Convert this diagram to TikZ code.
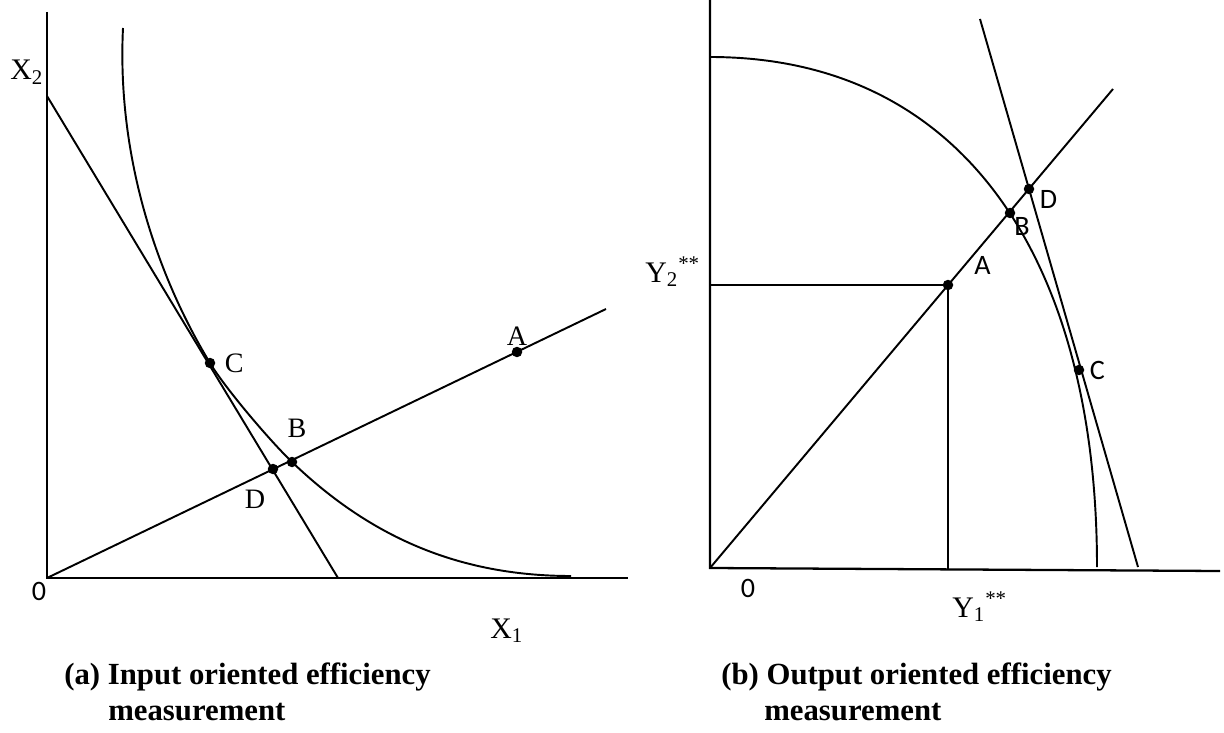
\documentclass[tikz,border=0pt]{standalone}
\usepackage{fontspec}
\setmainfont{Liberation Serif}
\newfontfamily\calibrifont{Carlito}
\usetikzlibrary{positioning}
\tikzset{
  % axes and curves
  axisline/.style={line width=1.3pt},
  curveline/.style={line width=1.1pt},
  % points on the curves
  ptdot/.style={circle, fill=black, inner sep=0pt, minimum size=0.21cm},
  ptlabel/.style={inner sep=0pt, font=\fontsize{16}{18}\selectfont},
  sanslabel/.style={inner sep=0pt, font=\fontsize{16}{18}\selectfont\calibrifont},
  axislabel/.style={inner sep=0pt, font=\fontsize{17}{20}\selectfont},
  captext/.style={inner sep=0pt, anchor=base west, font=\fontsize{17.5}{21}\selectfont\bfseries}
}

\begin{document}
\begin{tikzpicture}[x=0.02cm, y=-0.02cm]
  \useasboundingbox (0,0) rectangle (1224,733);

  % Panel (a): input oriented
  \coordinate (oL) at (47,578);
  \coordinate (yTopL) at (47,12);
  \coordinate (xEndL) at (628,578);
  \coordinate (budTop) at (47,96);
  \coordinate (budEnd) at (338,578);
  \coordinate (rayEndL) at (606,309);
  \coordinate (isoTop) at (123,28);
  \coordinate (isoEnd) at (571,576);

  \node[ptdot] (ptA) at (517,352) {};
  \node[ptdot] (ptB) at (292,462) {};
  \node[ptdot] (ptC) at (210,363) {};
  \node[ptdot] (ptD) at (273,469) {};

  \draw[axisline] (yTopL) -- (oL) -- (xEndL);
  \draw[curveline] (budTop) -- (budEnd);
  \draw[curveline] (oL) -- (rayEndL);
  \draw[curveline] (isoTop) .. controls (117,150) and (153,269) .. (ptC.center)
    .. controls (225.5,388.7) and (270.4,441.3) .. (ptB.center)
    .. controls (364,531) and (451,576) .. (isoEnd);

  \node[ptlabel, above=0.02cm of ptA] (lblA) {A};
  \node[ptlabel, above=0.36cm of ptB, xshift=0.1cm] (lblB) {B};
  \node[ptlabel, right=0.18cm of ptC] (lblC) {C};
  \node[ptlabel, below=0.3cm of ptD, xshift=-0.36cm] (lblD) {D};

  \node[axislabel, anchor=base west] (lblX2) at (10,80) {X\textsubscript{2}};
  \node[axislabel, anchor=base west] (lblX1) at (490,638) {X\textsubscript{1}};
  \node[sanslabel] (lblOL) at (39,591) {0};

  \node[captext] (capA) at (64,684) {(a) Input oriented efficiency};
  \node[captext] (capA2) at (108,720) {measurement};

  % Panel (b): output oriented
  \coordinate (oR) at (710,568);
  \coordinate (yTopR) at (710,0);
  \coordinate (xEndR) at (1220,571);
  \coordinate (rayEndR) at (1113,89);
  \coordinate (frontTop) at (710,57);
  \coordinate (frontEnd) at (1097,567);
  \coordinate (tanTop) at (980,19);
  \coordinate (tanEnd) at (1138,567);
  \coordinate (yStar) at (710,285);
  \coordinate (xStar) at (948,569.4);

  \node[ptdot] (rA) at (948,285) {};
  \node[ptdot] (rB) at (1010,213) {};
  \node[ptdot] (rC) at (1079,370) {};
  \node[ptdot] (rD) at (1029,189) {};

  \draw[axisline] (yTopR) -- (oR) -- (xEndR);
  \draw[curveline] (oR) -- (rayEndR);
  \draw[curveline] (frontTop) .. controls (965,57) and (1097,262) .. (frontEnd);
  \draw[curveline] (tanTop) -- (tanEnd);
  \draw[curveline] (yStar) -- (rA.center) -- (xStar);

  \node[sanslabel, above right=0.12cm and 0.44cm of rA] (lblRA) {A};
  \node[sanslabel, below right=0pt of rB] (lblRB) {B};
  \node[sanslabel, right=0.1cm of rC] (lblRC) {C};
  \node[sanslabel, right=0.1cm of rD, yshift=-0.2cm] (lblRD) {D};

  \node[axislabel, anchor=base west] (lblY2) at (645,282) {Y\textsubscript{2}\textsuperscript{**}};
  \node[axislabel, anchor=base west] (lblY1) at (952,617) {Y\textsubscript{1}\textsuperscript{**}};
  \node[sanslabel] (lblOR) at (748,588) {0};

  \node[captext] (capB) at (721,684) {(b) Output oriented efficiency};
  \node[captext] (capB2) at (764,720) {measurement};
\end{tikzpicture}
\end{document}
